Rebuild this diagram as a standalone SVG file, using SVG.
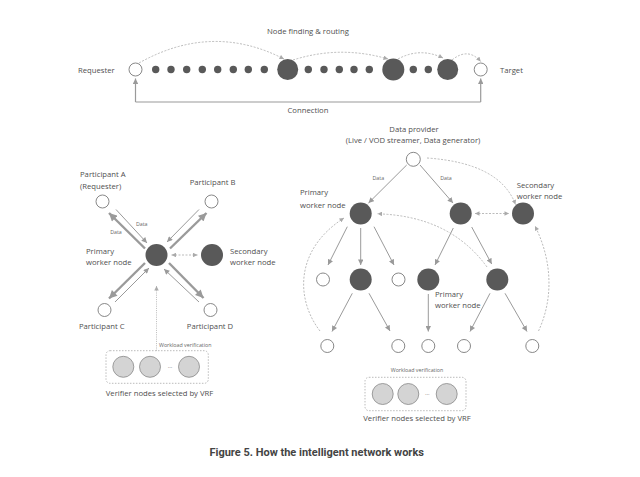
<svg xmlns="http://www.w3.org/2000/svg" width="640" height="477" viewBox="0 0 640 477">
<defs>
<style>
.t{font-family:"Open Sans","Noto Sans",sans-serif;font-size:7.7px;fill:#4f4f4f}
.s{font-family:"Open Sans","Noto Sans",sans-serif;font-size:5.3px;fill:#666}
.c{text-anchor:middle}
.cap{font-family:Roboto,"Liberation Sans",sans-serif;font-size:11px;font-weight:bold;fill:#444;text-anchor:middle}
.open{fill:#fff;stroke:#7a7a7a;stroke-width:0.9}
.dark{fill:#595959}
.ver{fill:#d4d4d4;stroke:#888;stroke-width:0.8}
.ln{fill:none;stroke:#9a9a9a;stroke-width:1}
.thk{fill:none;stroke:#9a9a9a;stroke-width:2.4}
.ds{fill:none;stroke:#aaa;stroke-width:0.8;stroke-dasharray:2 1.5}
.box{fill:none;stroke:#aaa;stroke-width:0.8;stroke-dasharray:1.5 1.5}
</style>
<marker id="aS" viewBox="0 0 10 10" refX="10" refY="5" markerWidth="6" markerHeight="5.5" markerUnits="userSpaceOnUse" orient="auto-start-reverse"><path d="M0,0 L10,5 L0,10 z" fill="#9a9a9a"/></marker>
<marker id="aL" viewBox="0 0 10 10" refX="10" refY="5" markerWidth="9" markerHeight="8" markerUnits="userSpaceOnUse" orient="auto-start-reverse"><path d="M0,0 L10,5 L0,10 z" fill="#9a9a9a"/></marker>
<marker id="aD" viewBox="0 0 10 10" refX="10" refY="5" markerWidth="5" markerHeight="4.5" markerUnits="userSpaceOnUse" orient="auto-start-reverse"><path d="M0,0 L10,5 L0,10 z" fill="#aaa"/></marker>
</defs>
<rect width="640" height="477" fill="#fff"/>

<g id="top-labels">
<text class="t c" x="308" y="34">Node finding &amp; routing</text>
<text class="t" x="78" y="73">Requester</text>
<text class="t" x="500" y="73">Target</text>
<text class="t c" x="308" y="113">Connection</text>
</g>
<g id="requester"><circle class="open" cx="135.5" cy="69.5" r="6.5"/></g>
<g id="target"><circle class="open" cx="480.7" cy="69.5" r="6.5"/></g>
<g id="relay-dots" class="dark">
<circle cx="155.7" cy="69.5" r="3.7"/><circle cx="171" cy="69.5" r="3.7"/><circle cx="186.7" cy="69.5" r="3.7"/><circle cx="202.3" cy="69.5" r="3.7"/><circle cx="217.7" cy="69.5" r="3.7"/><circle cx="233.3" cy="69.5" r="3.7"/><circle cx="248.3" cy="69.5" r="3.7"/><circle cx="264.3" cy="69.5" r="3.7"/>
<circle cx="308.3" cy="69.5" r="3.7"/><circle cx="324" cy="69.5" r="3.7"/><circle cx="339.3" cy="69.5" r="3.7"/><circle cx="354" cy="69.5" r="3.7"/><circle cx="369.3" cy="69.5" r="3.7"/>
<circle cx="413.3" cy="69.5" r="3.7"/><circle cx="428.3" cy="69.5" r="3.7"/>
</g>
<g id="router-1"><circle class="dark" cx="287.7" cy="69.5" r="10.5"/></g>
<g id="router-2"><circle class="dark" cx="393.3" cy="69.5" r="11"/></g>
<g id="router-3"><circle class="dark" cx="447.7" cy="69.5" r="10.5"/></g>

<g id="participant-a"><circle class="open" cx="102.5" cy="201.5" r="6.5"/>
<text class="t" x="80" y="177.3">Participant A</text><text class="t" x="80" y="189.3">(Requester)</text></g>
<g id="participant-b"><circle class="open" cx="211.5" cy="201.5" r="6.5"/><text class="t c" x="212.5" y="185">Participant B</text></g>
<g id="participant-c"><circle class="open" cx="104.5" cy="310" r="6.5"/><text class="t c" x="101.7" y="328.8">Participant C</text></g>
<g id="participant-d"><circle class="open" cx="210.5" cy="310" r="6.5"/><text class="t c" x="210" y="328.8">Participant D</text></g>
<g id="primary-left"><circle class="dark" cx="156.5" cy="255" r="11"/>
<text class="t" x="86" y="253.5">Primary</text><text class="t" x="86" y="264.5">worker node</text></g>
<g id="secondary-left"><circle class="dark" cx="212" cy="255" r="11"/>
<text class="t" x="230" y="253.5">Secondary</text><text class="t" x="230" y="264.5">worker node</text></g>
<g id="verifiers-left">
<rect class="box" x="106" y="350.7" width="102.3" height="32.6" rx="4"/>
<circle class="ver" cx="123.3" cy="366.8" r="10.5"/><circle class="ver" cx="150" cy="366.8" r="10.5"/><circle class="ver" cx="189" cy="366.8" r="10.5"/>
<text class="t c" x="170" y="368.5" style="font-size:6px">···</text>
<text class="t c" x="159.5" y="396">Verifier nodes selected by VRF</text>
</g>

<g id="data-provider"><circle class="open" cx="413.3" cy="159.3" r="7"/>
<text class="t c" x="414" y="132">Data provider</text><text class="t c" x="413" y="143">(Live / VOD streamer, Data generator)</text></g>
<g id="primary-right"><circle class="dark" cx="360.7" cy="213.5" r="11"/>
<text class="t" x="300" y="194.5">Primary</text><text class="t" x="300" y="207.8">worker node</text></g>
<g id="worker-mid"><circle class="dark" cx="460.7" cy="213.5" r="11"/></g>
<g id="secondary-right"><circle class="dark" cx="523" cy="213.5" r="11"/>
<text class="t" x="516.7" y="187.8">Secondary</text><text class="t" x="516.7" y="198.5">worker node</text></g>
<g id="l2-open-1"><circle class="open" cx="323" cy="279.5" r="6.5"/></g>
<g id="l2-dark-1"><circle class="dark" cx="360.7" cy="279.5" r="11"/></g>
<g id="l2-open-2"><circle class="open" cx="398.5" cy="279.5" r="6.5"/></g>
<g id="l2-dark-2"><circle class="dark" cx="428.3" cy="279.5" r="11"/>
<text class="t" x="435" y="297">Primary</text><text class="t" x="435" y="308">worker node</text></g>
<g id="l2-dark-3"><circle class="dark" cx="497.3" cy="279.5" r="11"/></g>
<g id="l3-1"><circle class="open" cx="327.3" cy="346" r="6.5"/></g>
<g id="l3-2"><circle class="open" cx="398.3" cy="346" r="6.5"/></g>
<g id="l3-3"><circle class="open" cx="428.3" cy="346" r="6.5"/></g>
<g id="l3-4"><circle class="open" cx="464" cy="346" r="6.5"/></g>
<g id="l3-5"><circle class="open" cx="532.3" cy="346" r="6.5"/></g>
<g id="verifiers-right">
<rect class="box" x="365" y="377.3" width="101" height="33.4" rx="4"/>
<circle class="ver" cx="382.7" cy="394" r="10.5"/><circle class="ver" cx="408.3" cy="394" r="10.5"/><circle class="ver" cx="446.7" cy="394" r="10.5"/>
<text class="t c" x="427.3" y="396" style="font-size:6px">···</text>
<text class="t c" x="417" y="421">Verifier nodes selected by VRF</text>
</g>

<g id="connectors">
<path class="ds" d="M139,63 Q212,22 284,59" marker-end="url(#aD)"/>
<path class="ds" d="M293,60 Q340,45 388,59" marker-end="url(#aD)"/>
<path class="ds" d="M398,59 Q420,47 443,58" marker-end="url(#aD)"/>
<path class="ds" d="M452,60 Q468,47 480.7,61.5" marker-end="url(#aD)"/>
<path class="ln" d="M135.5,102 H480.7" style="stroke-width:1.2"/>
<path class="ln" d="M135.5,102 V78.5" style="stroke-width:1.2" marker-end="url(#aS)"/>
<path class="ln" d="M480.7,102 V78.5" style="stroke-width:1.2" marker-end="url(#aS)"/>

<path class="thk" d="M145,248.5 L109,213" marker-end="url(#aL)"/>
<path class="ln" d="M116,209.5 L147,243" marker-end="url(#aS)"/>
<path class="thk" d="M170,248.5 L206.5,213" marker-end="url(#aL)"/>
<path class="ln" d="M199,209.5 L167,242" marker-end="url(#aS)"/>
<path class="thk" d="M145,263 L109,298.5" marker-end="url(#aL)"/>
<path class="ln" d="M115,302 L149,268" marker-end="url(#aS)"/>
<path class="thk" d="M169,263 L203.5,298" marker-end="url(#aL)"/>
<path class="ln" d="M199,302 L164,269" marker-end="url(#aS)"/>
<path class="ds" d="M171.5,255 H197.5" marker-start="url(#aD)" marker-end="url(#aD)"/>
<path class="ds" d="M156.5,350.7 V286" style="stroke-dasharray:1 1.2" marker-end="url(#aD)"/>
<text class="s c" x="141.7" y="226.3">Data</text>
<text class="s c" x="116" y="234">Data</text>
<text class="s" x="159" y="347">Workload verification</text>

<path class="ln" d="M406.7,165 L368.5,203" marker-end="url(#aS)"/>
<path class="ln" d="M420,165 L453,203" marker-end="url(#aS)"/>
<text class="s c" x="378.3" y="180.3">Data</text>
<text class="s c" x="446" y="180.3">Data</text>
<path class="ds" d="M427,158 Q500,163 515.5,204.5" marker-end="url(#aD)"/>
<path class="ds" d="M475,213.5 H509" marker-start="url(#aD)" marker-end="url(#aD)"/>

<path class="ln" d="M347.3,226.7 L328,265" marker-end="url(#aS)"/>
<path class="ln" d="M360.7,228 V265" marker-end="url(#aS)"/>
<path class="ln" d="M374,226.7 L394,265" marker-end="url(#aS)"/>
<path class="ln" d="M453.3,228 L435,265" marker-end="url(#aS)"/>
<path class="ln" d="M471.7,227 L491.7,264" marker-end="url(#aS)"/>

<path class="ln" d="M352.3,293.3 L332,331.5" marker-end="url(#aS)"/>
<path class="ln" d="M369,293.3 L390,331" marker-end="url(#aS)"/>
<path class="ln" d="M428.3,294 V331.5" marker-end="url(#aS)"/>
<path class="ln" d="M490,293.3 L470,331.5" marker-end="url(#aS)"/>
<path class="ln" d="M505,293.3 L527,331.5" marker-end="url(#aS)"/>

<path class="ds" d="M487,267 Q450,216 377.5,213.8" marker-end="url(#aD)"/>
<path class="ds" d="M320,331 C296,300 294,250 344,218" marker-end="url(#aD)"/>
<path class="ds" d="M538.5,331 C553,300 553,262 535,226" marker-end="url(#aD)"/>
<text class="s c" x="417" y="372">Workload verification</text>
</g>

<text class="cap" x="316.7" y="455.5">Figure 5. How the intelligent network works</text>
</svg>
